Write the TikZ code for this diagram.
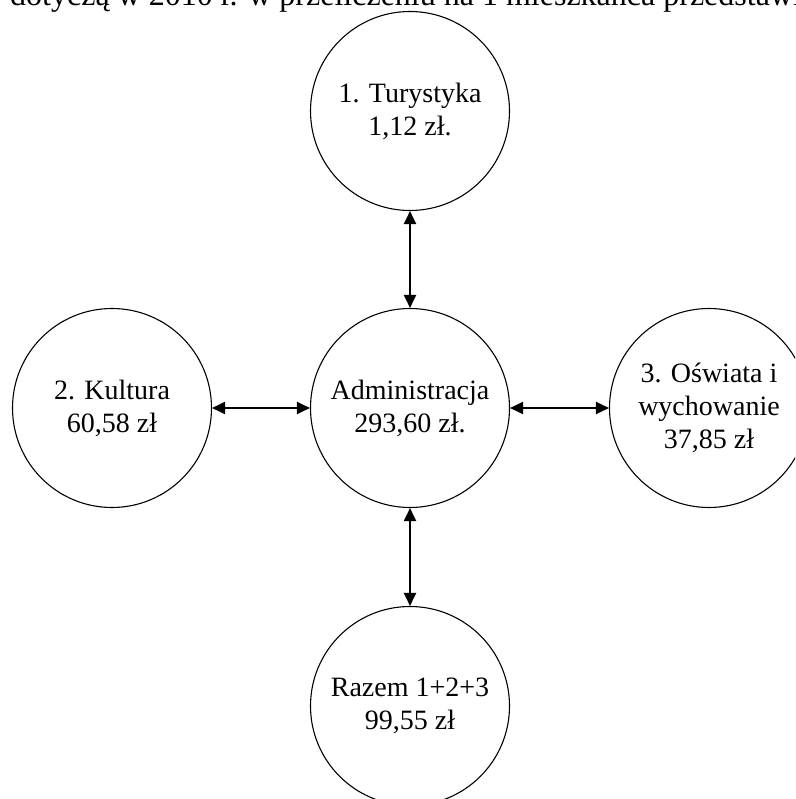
\documentclass[tikz,border=0pt]{standalone}
\usepackage{fontspec}
\setmainfont{Liberation Serif}
\usetikzlibrary{arrows.meta}
\begin{document}
\begin{tikzpicture}[x=1pt,y=-1pt,
  circ/.style={circle,draw,line width=1.1pt,minimum size=199pt,inner sep=0pt,align=center,font=\fontsize{28}{33}\selectfont},
  conn/.style={line width=2pt,{Triangle[length=13pt,width=12pt]}-{Triangle[length=13pt,width=12pt]}}]
\useasboundingbox (0,0) rectangle (795,799);
\clip (0,0) rectangle (795,799);
\node[anchor=base west,inner sep=0pt,font=\fontsize{32}{36}\selectfont] (head) at (10,6) {dotyczą w 2010 r. w przeliczeniu na 1 mieszkańca przedstawia};
\node[circ] (tur) at (410,111) {1. Turystyka\\1,12 zł.};
\node[circ] (adm) at (410,408) {Administracja\\293,60 zł.};
\node[circ] (kul) at (112,408) {2. Kultura\\60,58 zł};
\node[circ] (osw) at (709,408) {3. Oświata i\\wychowanie\\37,85 zł};
\node[circ] (raz) at (410,706) {Razem 1+2+3\\99,55 zł};
\draw[conn] (tur) -- (adm);
\draw[conn] (kul) -- (adm);
\draw[conn] (adm) -- (osw);
\draw[conn] (adm) -- (raz);
\end{tikzpicture}
\end{document}
